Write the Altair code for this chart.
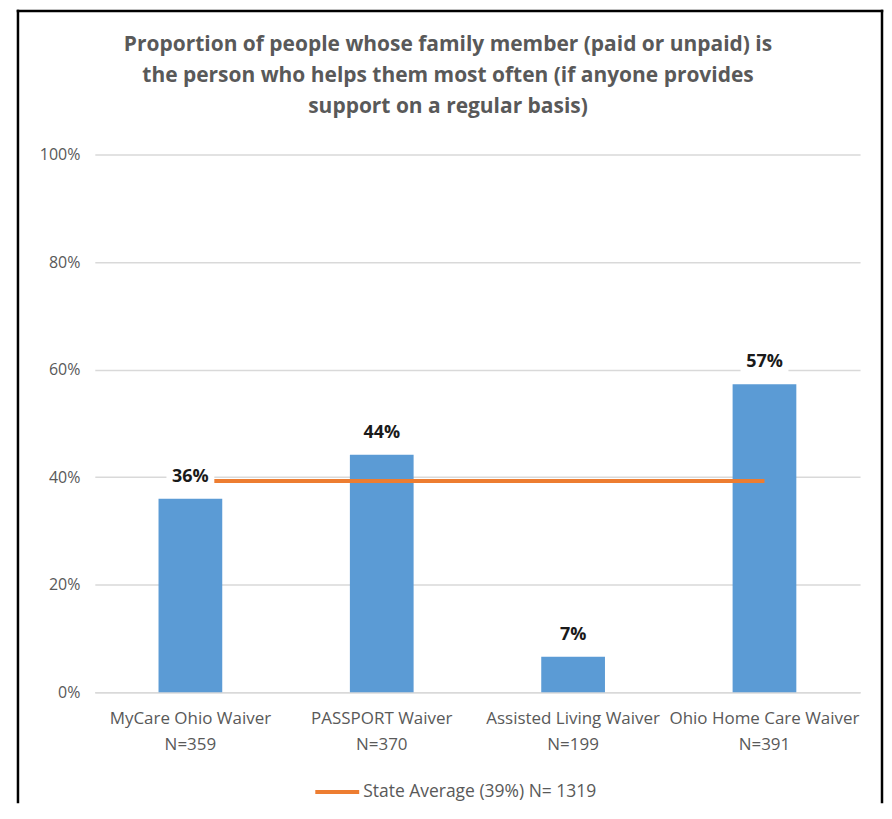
import altair as alt
import pandas as pd

TITLE_LINES = [
    "Proportion of people whose family member (paid or unpaid) is",
    "the person who helps them most often (if anyone provides",
    "support on a regular basis)",
]
CATEGORIES = ["MyCare Ohio Waiver", "PASSPORT Waiver", "Assisted Living Waiver", "Ohio Home Care Waiver"]
N_LABELS = ["N=359", "N=370", "N=199", "N=391"]
VALUES = [36.0, 44.2, 6.6, 57.3]
STATE_AVG = [39.3, 39.3, 39.3, 39.3]
LEGEND_LABEL = "State Average (39%) N= 1319"
Y_TICKS = [0, 20, 40, 60, 80, 100]

FONT = "Open Sans"
GRAY = "#595959"
BLUE = "#5b9bd5"
ORANGE = "#ed7d31"

W, H = 767, 539

df = pd.DataFrame({
    "cat": [c + "|" + n for c, n in zip(CATEGORIES, N_LABELS)],
    "value": VALUES,
    "avg": STATE_AVG,
    "series": [LEGEND_LABEL] * len(CATEGORIES),
})
order = list(df["cat"])

x = alt.X("cat:N", sort=order, title=None,
          scale=alt.Scale(paddingInner=0.667, paddingOuter=0.333),
          axis=alt.Axis(labelExpr="split(datum.label, '|')", labelAngle=0,
                        labelFont=FONT, labelFontSize=17, labelColor=GRAY,
                        labelLineHeight=26, labelPadding=18, labelBaseline="top",
                        labelLimit=0, ticks=False, domainColor="#d9d9d9",
                        domainWidth=1.5, grid=False))
y = alt.Y("value:Q", title=None,
          scale=alt.Scale(domain=[0, 100], nice=False),
          axis=alt.Axis(values=Y_TICKS, labelExpr="datum.value + '%'",
                        labelFont=FONT, labelFontSize=16, labelColor=GRAY,
                        labelPadding=15, ticks=False, domain=False,
                        gridColor="#d9d9d9", gridWidth=1.5))

base = alt.Chart(df)

bars = base.mark_bar(color=BLUE).encode(x=x, y=y)

line = base.mark_line(strokeWidth=4).encode(
    x=alt.X("cat:N", sort=order),
    y=alt.Y("avg:Q"),
    color=alt.Color("series:N",
                    scale=alt.Scale(domain=[LEGEND_LABEL], range=[ORANGE]),
                    legend=alt.Legend(orient="none", legendX=219, legendY=615,
                                      title=None, symbolType="stroke",
                                      symbolStrokeWidth=4, symbolSize=1936,
                                      labelFont=FONT, labelFontSize=17.5,
                                      labelColor=GRAY, labelOffset=2,
                                      labelLimit=0)),
)

boxes = base.mark_point(shape="M-1,-0.5L1,-0.5L1,0.5L-1,0.5Z", filled=True,
                        fill="white", opacity=1, strokeWidth=0, size=2304,
                        yOffset=-22).encode(
    x=alt.X("cat:N", sort=order), y=alt.Y("value:Q"))

labels = base.mark_text(font=FONT, fontSize=18, fontWeight="bold", color="#1a1a1a",
                        dy=-22, baseline="middle").transform_calculate(
    lbl="format(datum.value, '.0f') + '%'").encode(
    x=alt.X("cat:N", sort=order), y=alt.Y("value:Q"), text="lbl:N")

one = pd.DataFrame({"k": [0]})
title = alt.Chart(one).mark_text(text=TITLE_LINES, font=FONT, fontSize=21,
                                 fontWeight="bold", color=GRAY, lineHeight=31,
                                 align="center", baseline="middle").encode(
    x=alt.value(354), y=alt.value(-110))

frame_left = alt.Chart(one).mark_rule(color="black", strokeWidth=2.5, strokeCap="square").encode(
    x=alt.value(-77), y=alt.value(-144), y2=alt.value(649))
frame_right = alt.Chart(one).mark_rule(color="black", strokeWidth=2.5, strokeCap="square").encode(
    x=alt.value(789), y=alt.value(-144), y2=alt.value(649))
frame_top = alt.Chart(one).mark_rule(color="black", strokeWidth=2.5, strokeCap="square").encode(
    x=alt.value(-77), x2=alt.value(789), y=alt.value(-144))

chart = alt.layer(bars, line, boxes, labels, title, frame_left, frame_right, frame_top).properties(
    width=W, height=H,
    padding={"left": 8, "top": 0, "right": 0, "bottom": 0},
    background="white",
).configure_view(stroke=None)

chart.save("out.html", embed_options={"renderer": "svg", "actions": False})
